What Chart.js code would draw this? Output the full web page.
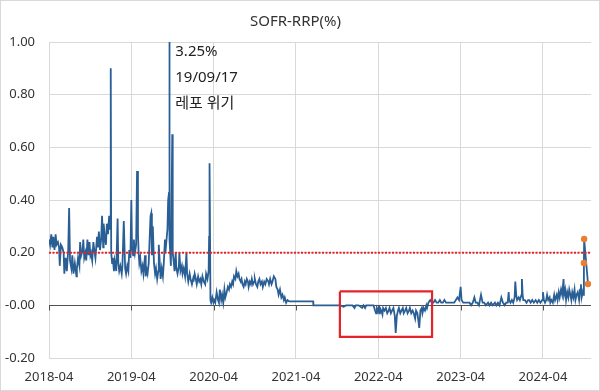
<!DOCTYPE html>
<html>
<head>
<meta charset="utf-8">
<script src="https://cdn.jsdelivr.net/npm/chart.js@4"></script>
<style>
  html, body { margin: 0; padding: 0; background: #fff; }
  canvas { display: block; }
</style>
</head>
<body>
<canvas id="chart" width="600" height="391"></canvas>
<script>
// SOFR minus RRP rate, %p, dates as MM-DD per year
const days2018 = ['04-02','04-06','04-11','04-16','04-20','04-25','04-30',
  '05-04','05-10','05-15','05-18','05-23','05-29',
  '06-05','06-08','06-14','06-19','06-25','06-29',
  '07-03','07-09','07-13','07-18','07-24','07-31',
  '08-03','08-08','08-14','08-17','08-22','08-28','08-31',
  '09-05','09-10','09-14','09-19','09-24','09-28',
  '10-02','10-05','10-10','10-15','10-19','10-24','10-31',
  '11-05','11-09','11-14','11-19','11-23','11-28','11-30',
  '12-05','12-10','12-14','12-19','12-24','12-28','12-31'];
const spread2018 = [0.25,0.23,0.27,0.22,0.26,0.21,0.27,
  0.23,0.24,0.22,0.15,0.23,0.22,
  0.20,0.12,0.18,0.13,0.21,0.37,
  0.17,0.14,0.19,0.12,0.16,0.11,
  0.14,0.18,0.15,0.24,0.19,0.21,0.25,
  0.18,0.20,0.17,0.25,0.19,0.24,
  0.19,0.20,0.17,0.24,0.21,0.18,0.26,
  0.22,0.28,0.21,0.25,0.34,0.22,0.31,
  0.26,0.23,0.31,0.27,0.34,0.29,0.90];

const days2019 = ['01-03','01-07','01-10','01-15','01-18','01-22','01-25','01-31',
  '02-04','02-08','02-13','02-19','02-22','02-28',
  '03-04','03-08','03-13','03-18','03-22','03-27',
  '04-01','04-04','04-09','04-12','04-17','04-22','04-26','04-30',
  '05-03','05-06','05-10','05-15','05-20','05-24','05-31',
  '06-04','06-07','06-12','06-17','06-21','06-25','06-28',
  '07-01','07-05','07-10','07-15','07-19','07-24','07-29',
  '08-01','08-06','08-09','08-14','08-19','08-23','08-28','08-30',
  '09-04','09-09','09-12','09-16','09-17','09-19','09-24','09-30',
  '10-02','10-07','10-10','10-15','10-18','10-23','10-29',
  '11-01','11-06','11-12','11-15','11-20','11-26',
  '12-02','12-05','12-10','12-16','12-20','12-26','12-31'];
const spread2019 = [0.20,0.16,0.18,0.13,0.17,0.15,0.13,0.33,
  0.16,0.13,0.15,0.12,0.15,0.32,
  0.14,0.12,0.15,0.13,0.21,0.18,
  0.40,0.22,0.19,0.25,0.20,0.23,0.51,0.27,
  0.20,0.16,0.18,0.13,0.15,0.12,0.19,
  0.11,0.14,0.12,0.16,0.25,0.34,0.35,
  0.19,0.30,0.16,0.12,0.14,0.10,0.13,
  0.23,0.15,0.10,0.14,0.11,0.16,0.25,0.20,
  0.24,0.29,0.40,0.43,3.25,0.25,0.15,0.65,
  0.20,0.16,0.13,0.20,0.14,0.12,0.15,
  0.20,0.13,0.15,0.12,0.14,0.11,
  0.20,0.12,0.09,0.12,0.10,0.08,0.10];

const days2020 = ['01-03','01-08','01-13','01-17','01-23','01-28',
  '02-03','02-07','02-12','02-18','02-24','02-28',
  '03-04','03-09','03-11','03-13','03-17','03-20','03-25','03-30',
  '04-03','04-08','04-14','04-20','04-24','04-28',
  '05-04','05-08','05-13','05-18','05-22','05-28',
  '06-03','06-08','06-12','06-17','06-22','06-26','06-30',
  '07-06','07-10','07-15','07-20','07-24','07-29',
  '08-03','08-07','08-12','08-17','08-21','08-26','08-31',
  '09-04','09-09','09-14','09-18','09-23','09-28',
  '10-01','10-06','10-12','10-16','10-21','10-26',
  '11-02','11-06','11-12','11-17','11-23','11-30',
  '12-03','12-08','12-14','12-18','12-24','12-31'];
const spread2020 = [0.09,0.12,0.10,0.08,0.11,0.09,
  0.10,0.08,0.11,0.09,0.08,0.12,
  0.10,0.13,0.26,0.54,0.02,0.01,0.03,0.01,
  0.02,0.01,0.05,0.02,0.01,0.06,
  0.02,0.04,0.01,0.06,0.03,0.05,
  0.07,0.06,0.08,0.07,0.09,0.08,0.11,
  0.10,0.13,0.11,0.12,0.10,0.09,
  0.10,0.08,0.07,0.09,0.08,0.10,0.09,
  0.07,0.09,0.08,0.10,0.08,0.09,
  0.10,0.08,0.07,0.09,0.10,0.08,
  0.09,0.07,0.09,0.08,0.10,0.09,
  0.08,0.10,0.08,0.09,0.11,0.10];

const days2021 = ['01-05','01-11','01-15','01-21','01-27',
  '02-02','02-08','02-12','02-18','02-24',
  '03-01','03-15','04-01','04-15','05-03','05-17','06-01','06-16',
  '06-17','07-01','07-15','08-02','08-16','09-01','09-15','10-01','10-15','10-29',
  '11-10','11-24','12-08','12-17','12-22'];
const spread2021 = [0.07,0.06,0.04,0.06,0.03,
  0.04,0.02,0.03,0.01,0.02,
  0.015,0.015,0.015,0.015,0.015,0.015,0.015,0.015,
  0,0,0,0,0,0,0,0,0,-0.005,
  0,0,0,-0.01,0];

const days2022 = ['01-05','01-20','01-26','02-03','02-08','02-24','03-10',
  '03-17','03-21','03-25','03-31','04-05','04-08','04-14','04-19','04-22','04-28',
  '05-04','05-10','05-16','05-20','05-26','06-01','06-07','06-13','06-17','06-22','06-27',
  '07-01','07-07','07-12','07-18','07-22','07-28',
  '08-03','08-09','08-15','08-19','08-25','08-31',
  '09-06','09-12','09-16','09-22','09-30',
  '10-05','10-11','10-14','10-19','10-25','10-31',
  '11-04','11-10','11-18','11-25','12-02','12-09','12-16','12-23','12-30'];
const spread2022 = [0,-0.01,0,-0.01,0,0,0,
  -0.02,-0.03,-0.01,-0.02,-0.03,-0.01,-0.02,-0.035,-0.01,-0.02,
  -0.01,-0.03,-0.02,-0.01,-0.03,-0.02,-0.01,-0.04,-0.105,-0.04,-0.02,
  -0.01,-0.03,-0.02,-0.01,-0.03,-0.02,
  -0.01,-0.03,-0.02,-0.01,-0.03,-0.02,
  -0.03,-0.05,-0.02,-0.03,-0.086,
  -0.02,-0.01,-0.03,-0.01,-0.02,0,
  -0.01,0.01,0.02,0.01,0.01,0.02,0.01,0.01,0.02];

const days2023 = ['01-06','01-13','01-20','01-27','02-03','02-10','02-17','02-24',
  '03-03','03-10','03-17','03-24','03-31','04-05','04-12','04-19','04-26',
  '05-03','05-10','05-17','05-24','05-31','06-07','06-14','06-21','06-30',
  '07-07','07-14','07-21','07-31','08-07','08-14','08-21','08-31',
  '09-07','09-14','09-21','09-29','10-06','10-13','10-20','10-27','10-31',
  '11-03','11-09','11-15','11-21','11-27','11-30',
  '12-04','12-08','12-15','12-20','12-27','12-29'];
const spread2023 = [0.01,0.01,0.02,0.01,0.01,0.01,0.01,0.01,
  0.01,0.02,0.03,0.02,0.07,0.02,0.01,0.01,0.01,
  0.01,0.01,0,0.01,0.03,0.01,0.01,0,0.04,
  0.01,0.01,0,0.01,0,0.01,0,0.01,
  0,0.01,0,0.03,0.01,0,0.01,0.01,0.05,
  0.02,0.01,0.02,0.01,0.03,0.09,
  0.04,0.02,0.03,0.02,0.04,0.10];

const days2024 = ['01-02','01-05','01-12','01-19','01-26','01-31',
  '02-07','02-14','02-21','02-29','03-06','03-13','03-20','03-27',
  '04-01','04-05','04-10','04-15','04-19','04-24','04-30',
  '05-03','05-08','05-14','05-20','05-24','05-31',
  '06-05','06-10','06-14','06-20','06-25','07-01','07-03',
  '07-08','07-12','07-17','07-22','07-26','07-31',
  '08-05','08-09','08-14','08-19','08-23','08-28',
  '09-03','09-09','09-13','09-17','09-20','09-25','09-27','09-30','10-01','10-18'];
const spread2024 = [0.04,0.02,0.02,0.01,0.02,0.02,
  0.01,0.02,0.01,0.02,0.01,0.02,0.01,0.02,
  0.05,0.02,0.01,0.02,0.04,0.02,0.03,
  0.01,0.02,0.01,0.04,0.02,0.04,
  0.02,0.05,0.03,0.06,0.04,0.10,0.04,
  0.06,0.02,0.05,0.03,0.06,0.04,
  0.02,0.05,0.03,0.06,0.02,0.04,
  0.05,0.02,0.06,0.08,0.03,0.05,0.04,0.161,0.252,0.081];

// latest points marked in orange
const highlightDates = ['2024-09-30','2024-10-01','2024-10-18'];
const highlightValues = [0.161,0.252,0.081];

const xTickMonths = [0,12,24,36,48,60,72];
const xTickLabels = ['2018-04','2019-04','2020-04','2021-04','2022-04','2023-04','2024-04'];
const xEndDate = '2024-11-01';

const thresholdValue = 0.20;
const boxDates = ['2021-10-13','2022-11-26'];
const boxValues = [0.053,-0.12];

const noteDate = '2019-09-17';
const noteLines = ['3.25%','19/09/17','레포 위기'];

const FONT = "'Noto Sans', 'Noto Sans CJK KR', sans-serif";

// months since 2018-04-01
function monthIndex(s) {
  const [y, m, d] = s.split('-').map(Number);
  return (y - 2018) * 12 + (m - 4) + (d - 1) / 30;
}

const years = [
  [2018, days2018, spread2018], [2019, days2019, spread2019], [2020, days2020, spread2020],
  [2021, days2021, spread2021], [2022, days2022, spread2022], [2023, days2023, spread2023],
  [2024, days2024, spread2024]
];
const series = [];
years.forEach(([yr, days, vals]) => {
  days.forEach((d, i) => series.push({ x: monthIndex(yr + '-' + d), y: vals[i] }));
});

const xMax = monthIndex(xEndDate);
const [bx0, bx1] = boxDates.map(monthIndex);
const [by0, by1] = boxValues;

const extras = {
  id: 'extras',
  beforeDraw(chart) {
    const c = chart.ctx;
    c.save();
    c.fillStyle = '#fff';
    c.fillRect(0, 0, chart.width, chart.height);
    c.strokeStyle = '#d9d9d9';
    c.lineWidth = 1;
    c.strokeRect(0.5, 0.5, chart.width - 1, chart.height - 1);
    c.restore();
  },
  beforeDatasetsDraw(chart) {
    // small tick marks hanging under the zero line
    const c = chart.ctx, xs = chart.scales.x, y0 = Math.round(chart.scales.y.getPixelForValue(0)) + 0.5;
    c.save();
    c.strokeStyle = '#505050';
    c.lineWidth = 1;
    xTickMonths.forEach(m => {
      const px = Math.round(xs.getPixelForValue(m)) + 0.5;
      c.beginPath();
      c.moveTo(px, y0);
      c.lineTo(px, y0 + 5);
      c.stroke();
    });
    c.restore();
  },
  afterDatasetsDraw(chart) {
    const c = chart.ctx, a = chart.chartArea;
    const x = chart.scales.x.getPixelForValue(monthIndex(noteDate)) + 6;
    c.save();
    c.font = '15px ' + FONT;
    c.fillStyle = '#222';
    c.textBaseline = 'middle';
    c.textAlign = 'left';
    noteLines.forEach((t, i) => c.fillText(t, x, a.top + 10 + i * 26));
    c.restore();
  }
};

new Chart(document.getElementById('chart'), {
  type: 'line',
  data: {
    datasets: [
      {
        data: highlightDates.map((d, i) => ({ x: monthIndex(d), y: highlightValues[i] })),
        showLine: false,
        pointRadius: 3.2,
        pointBackgroundColor: '#ED7D31',
        pointBorderColor: '#ED7D31',
        pointBorderWidth: 0
      },
      {
        data: [{ x: 0, y: thresholdValue }, { x: xMax, y: thresholdValue }],
        borderColor: '#E3242B',
        borderWidth: 2,
        borderDash: [2, 1.5],
        pointRadius: 0
      },
      {
        data: [{ x: bx0, y: by0 }, { x: bx1, y: by0 }, { x: bx1, y: by1 }, { x: bx0, y: by1 }, { x: bx0, y: by0 }],
        borderColor: '#E3242B',
        borderWidth: 2.2,
        pointRadius: 0,
        borderJoinStyle: 'miter'
      },
      {
        data: series,
        borderColor: '#2A5F96',
        borderWidth: 1.8,
        pointRadius: 0,
        tension: 0
      }
    ]
  },
  options: {
    responsive: false,
    animation: false,
    devicePixelRatio: 1,
    layout: { padding: { left: 0, right: 9, top: 0, bottom: 0 } },
    plugins: {
      legend: { display: false },
      tooltip: { enabled: false },
      title: {
        display: true,
        text: 'SOFR-RRP(%)',
        color: '#333',
        font: { family: FONT, size: 15, weight: 'normal' },
        padding: { top: 13, bottom: 11 }
      }
    },
    scales: {
      x: {
        type: 'linear',
        min: 0,
        max: xMax,
        afterBuildTicks: s => { s.ticks = xTickMonths.map(v => ({ value: v })); },
        afterFit: s => { s.height = 33; },
        ticks: {
          autoSkip: false,
          maxRotation: 0,
          padding: 11,
          color: '#333',
          font: { family: FONT, size: 13 },
          callback: (v, i) => xTickLabels[i]
        },
        grid: { color: '#d9d9d9', drawTicks: false },
        border: { display: false }
      },
      y: {
        min: -0.2,
        max: 1.0,
        afterFit: s => { s.width = 49; },
        ticks: {
          stepSize: 0.2,
          padding: 14,
          color: '#333',
          font: { family: FONT, size: 13 },
          callback: v => v.toFixed(2)
        },
        grid: {
          drawTicks: false,
          color: ctx => Math.abs(ctx.tick.value) < 1e-9 ? '#505050' : '#d9d9d9'
        },
        border: { display: false }
      }
    }
  },
  plugins: [extras]
});
</script>
</body>
</html>
